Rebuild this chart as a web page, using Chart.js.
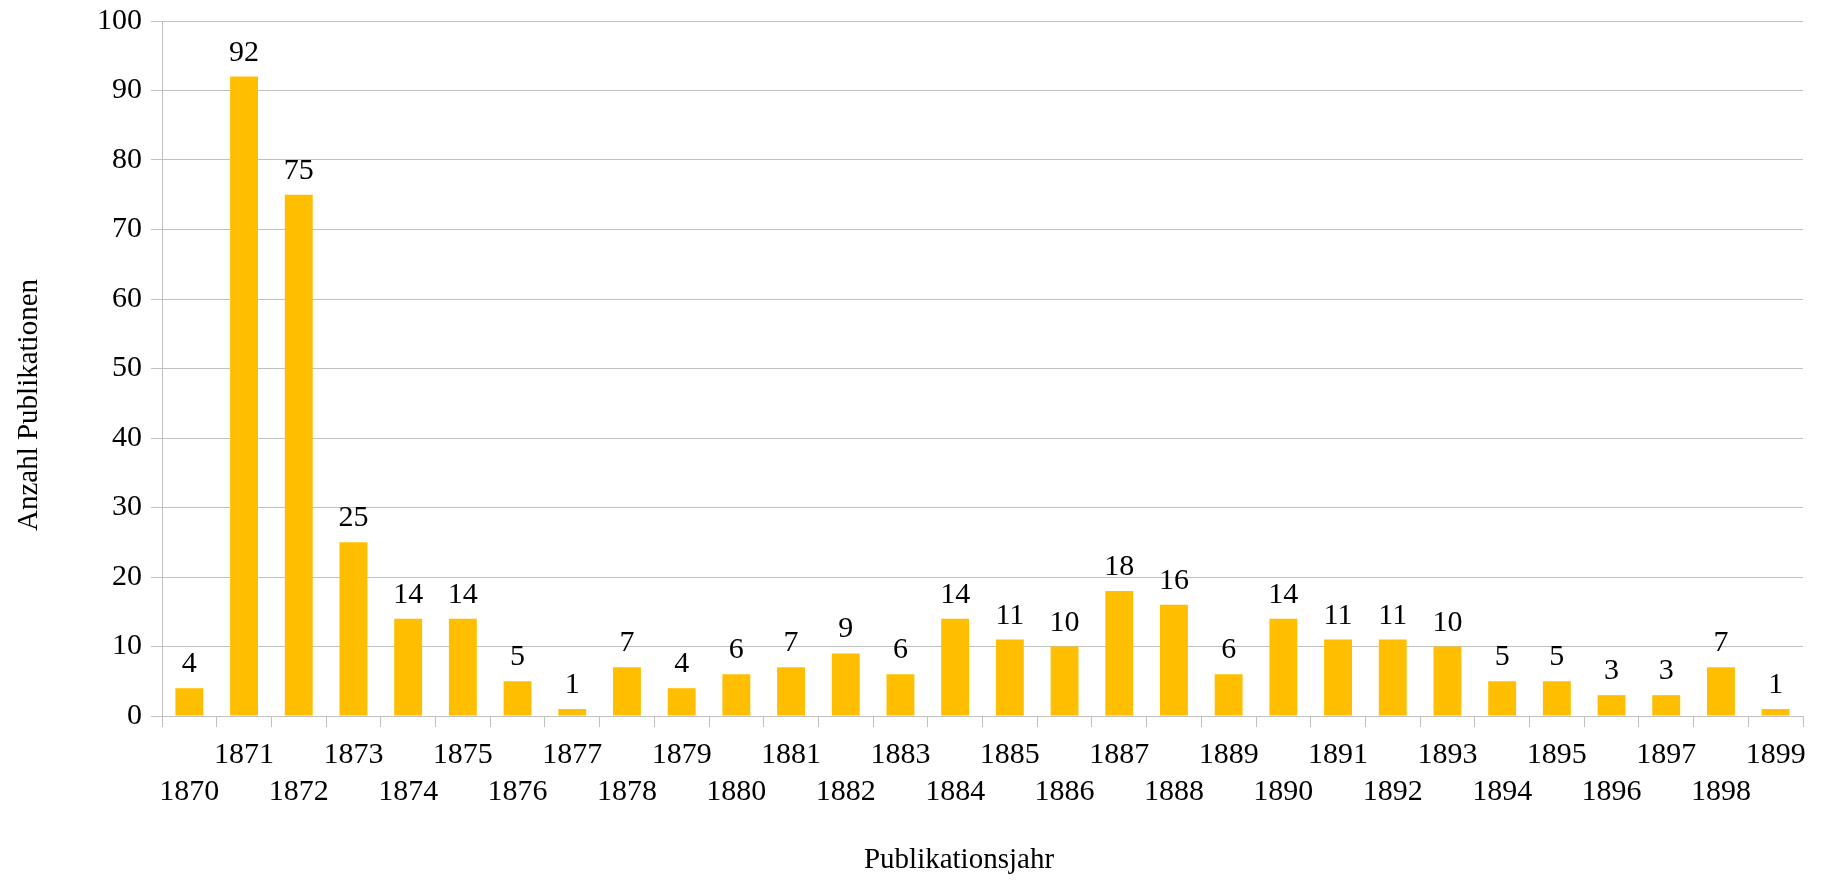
<!DOCTYPE html>
<html>
<head>
<meta charset="utf-8">
<script src="https://cdn.jsdelivr.net/npm/chart.js@4.4.1/dist/chart.umd.min.js"></script>
<style>
    body { margin: 0; background: #fff; }
    #wrap { width: 1836px; height: 881px; position: relative; }
</style>
</head>
<body>
<div id="wrap"><canvas id="pubChart"></canvas></div>
<script>
// Data
const years = ['1870', '1871', '1872', '1873', '1874', '1875', '1876', '1877', '1878', '1879',
    '1880', '1881', '1882', '1883', '1884', '1885', '1886', '1887', '1888', '1889',
    '1890', '1891', '1892', '1893', '1894', '1895', '1896', '1897', '1898', '1899'];
const counts = [4, 92, 75, 25, 14, 14, 5, 1, 7, 4,
    6, 7, 9, 6, 14, 11, 10, 18, 16, 6,
    14, 11, 11, 10, 5, 5, 3, 3, 7, 1];
const yTicks = [0, 10, 20, 30, 40, 50, 60, 70, 80, 90, 100];
const xTitle = 'Publikationsjahr';
const yTitle = 'Anzahl Publikationen';

const FONT = '"Liberation Serif", "Times New Roman", serif';
const GRID = '#c0c0c0';

// Numbers above the bars
const valueLabels = {
    id: 'valueLabels',
    afterDatasetsDraw(chart) {
        const ctx = chart.ctx;
        const meta = chart.getDatasetMeta(0);
        ctx.save();
        ctx.font = '30px ' + FONT;
        ctx.fillStyle = '#000';
        ctx.textAlign = 'center';
        ctx.textBaseline = 'alphabetic';
        meta.data.forEach((bar, i) => {
            ctx.fillText(String(counts[i]), bar.x, bar.y - 16);
        });
        ctx.restore();
    }
};

// Axis titles (placed like the original, not centred on the plot)
const axisTitles = {
    id: 'axisTitles',
    afterDraw(chart) {
        const ctx = chart.ctx;
        ctx.save();
        ctx.font = '29px ' + FONT;
        ctx.fillStyle = '#000';
        ctx.textAlign = 'center';
        ctx.textBaseline = 'middle';
        ctx.fillText(xTitle, 959, 860);
        ctx.translate(29, 405);
        ctx.rotate(-Math.PI / 2);
        ctx.fillText(yTitle, 0, 0);
        ctx.restore();
    }
};

const pubCtx = document.getElementById('pubChart').getContext('2d');
const pubChart = new Chart(pubCtx, {
    type: 'bar',
    data: {
        labels: years,
        datasets: [{
            data: counts,
            backgroundColor: '#ffbf00',
            borderWidth: 0,
            barPercentage: 0.51,
            categoryPercentage: 1
        }]
    },
    options: {
        responsive: true,
        maintainAspectRatio: false,
        animation: false,
        layout: {
            padding: { top: 21, right: 33, bottom: 0, left: 0 }
        },
        plugins: {
            legend: { display: false },
            tooltip: { enabled: false }
        },
        scales: {
            x: {
                grid: {
                    offset: true,
                    color: c => c.index === years.length ? GRID : 'rgba(0,0,0,0)',
                    tickColor: GRID,
                    tickLength: 11
                },
                border: { color: GRID },
                ticks: {
                    autoSkip: false,
                    maxRotation: 0,
                    minRotation: 0,
                    padding: 10,
                    color: '#000',
                    font: { family: FONT, size: 30, lineHeight: 1.233 },
                    // staggered labels: even years below, odd years above
                    callback: function(value, index) {
                        const y = years[index];
                        return index % 2 ? [y, ''] : ['', y];
                    }
                },
                afterFit: scale => { scale.height = 165; }
            },
            y: {
                min: 0,
                max: 100,
                afterBuildTicks: scale => {
                    scale.ticks = yTicks.map(v => ({ value: v }));
                },
                grid: {
                    color: GRID,
                    tickColor: GRID,
                    tickLength: 11
                },
                border: { color: GRID },
                ticks: {
                    padding: 9,
                    color: '#000',
                    // small line height so the top label does not push the plot down
                    font: { family: FONT, size: 30, lineHeight: 0.8 }
                },
                afterFit: scale => { scale.width = 162; }
            }
        }
    },
    plugins: [valueLabels, axisTitles]
});
</script>
</body>
</html>
